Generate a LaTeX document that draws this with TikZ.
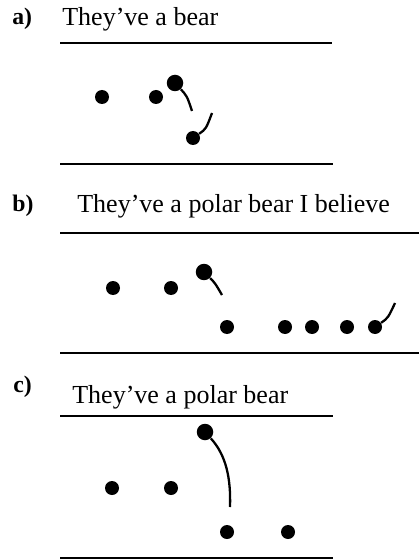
\documentclass[tikz,border=0pt]{standalone}
\usepackage{fontspec}
\setmainfont{Liberation Serif}
\usepackage{tikz}

\begin{document}
\begin{tikzpicture}[x=0.02cm, y=-0.02cm,
	every node/.style={font=\fontsize{14.8}{17}\selectfont, inner sep=0pt, anchor=base west},
	panel/.style={font=\fontsize{13.5}{16}\selectfont\bfseries},
	dot/.style={circle, fill, minimum size=0.28cm, anchor=center},
	bigdot/.style={dot, minimum size=0.33cm},
	rule/.style={line width=1.3pt},
	tail/.style={line width=1.3pt}]
	\useasboundingbox (0,0) rectangle (419,560);
	% a)
	\node[panel] (la) at (12,25) {a)};
	\node (sa) at (62,26) {They've a bear};
	\draw[rule] (60,43) -- (332,43);
	\draw[rule] (60,164) -- (333,164);
	\node[dot] (a1) at (102,97) {};
	\node[dot] (a2) at (156,97) {};
	\node[bigdot] (a3) at (175,83) {};
	\node[dot] (a4) at (193,138) {};
	\coordinate (a3t) at (192,111);
	\coordinate (a4t) at (212,113);
	\draw[tail] (a3) .. controls (187,96) .. (a3t);
	\draw[tail] (a4) .. controls (206,129) .. (a4t);
	% b)
	\node[panel] (lb) at (12,212) {b)};
	\node (sb) at (77,213) {They've a polar bear I believe};
	\draw[rule] (60,233) -- (419,233);
	\draw[rule] (60,353) -- (419,353);
	\node[dot] (b1) at (113,288) {};
	\node[dot] (b2) at (171,288) {};
	\node[bigdot] (b3) at (204,272) {};
	\node[dot] (b4) at (227,327) {};
	\node[dot] (b5) at (285,327) {};
	\node[dot] (b6) at (312,327) {};
	\node[dot] (b7) at (347,327) {};
	\node[dot] (b8) at (375,327) {};
	\coordinate (b3t) at (222,295);
	\coordinate (b8t) at (395,303);
	\draw[tail] (b3) .. controls (215,283) .. (b3t);
	\draw[tail] (b8) .. controls (388,318) .. (b8t);
	% c)
	\node[panel] (lc) at (13,392) {c)};
	\node (sc) at (72,403) {They've a polar bear};
	\draw[rule] (60,416) -- (333,416);
	\draw[rule] (60,558) -- (333,558);
	\node[dot] (c1) at (112,488) {};
	\node[dot] (c2) at (171,488) {};
	\node[bigdot] (c3) at (205,432) {};
	\node[dot] (c4) at (227,532) {};
	\node[dot] (c5) at (288,532) {};
	\coordinate (c3t) at (230,507);
	\draw[tail] (c3) .. controls (226,455) and (231,478) .. (c3t);
\end{tikzpicture}
\end{document}
